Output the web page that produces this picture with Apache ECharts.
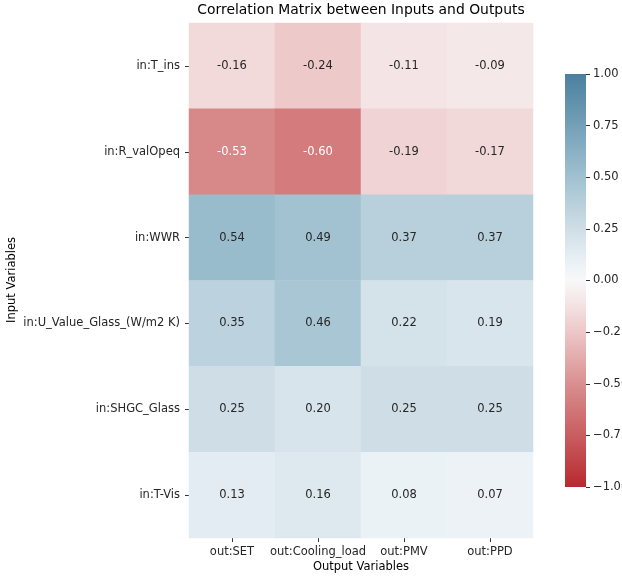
<!DOCTYPE html>
<html>
<head>
<meta charset="utf-8">
<script src="https://cdn.jsdelivr.net/npm/echarts@6/dist/echarts.min.js"></script>
<style>
  html, body { margin: 0; padding: 0; background: #ffffff; }
  #chart { width: 622px; height: 577px; }
</style>
</head>
<body>
<div id="chart"></div>
<script>
// Row and column categories
const inputVars = ['in:T_ins', 'in:R_valOpeq', 'in:WWR', 'in:U_Value_Glass_(W/m2 K)', 'in:SHGC_Glass', 'in:T-Vis'];
const outputVars = ['out:SET', 'out:Cooling_load', 'out:PMV', 'out:PPD'];

// Correlation coefficients, one array per input variable (order follows outputVars)
const corrTIns     = [-0.16, -0.24, -0.11, -0.09];
const corrRValOpeq = [-0.53, -0.60, -0.19, -0.17];
const corrWWR      = [0.54, 0.49, 0.37, 0.37];
const corrUValue   = [0.35, 0.46, 0.22, 0.19];
const corrSHGC     = [0.25, 0.20, 0.25, 0.25];
const corrTVis     = [0.13, 0.16, 0.08, 0.07];
const corrRows = [corrTIns, corrRValOpeq, corrWWR, corrUValue, corrSHGC, corrTVis];

// Diverging red-white-blue palette: anchor positions and colours
const paletteAt  = [-1, -0.75, -0.5, -0.25, -0.1, 0, 0.1, 0.25, 0.5, 0.75, 1];
const paletteHex = ['#B8292F', '#C95D60', '#D98F90', '#EDC7C8', '#F5E6E7', '#F8F8F8',
                    '#E8F0F5', '#CFDEE6', '#A0C1D1', '#74A0B8', '#4A809F'];

const FONT = 'DejaVu Sans';
const LABEL_SIZE = 11.5;

// Resample the anchored palette into an evenly spaced colour list for the visualMap
function hexToRgb(h) {
  return [parseInt(h.slice(1, 3), 16), parseInt(h.slice(3, 5), 16), parseInt(h.slice(5, 7), 16)];
}
function paletteColor(v) {
  let i = 0;
  while (i < paletteAt.length - 2 && v > paletteAt[i + 1]) i++;
  const t = (v - paletteAt[i]) / (paletteAt[i + 1] - paletteAt[i]);
  const a = hexToRgb(paletteHex[i]), b = hexToRgb(paletteHex[i + 1]);
  const c = a.map((x, k) => Math.round(x + (b[k] - x) * t));
  return 'rgb(' + c.join(',') + ')';
}
const rampColors = [];
for (let k = 0; k <= 200; k++) rampColors.push(paletteColor(-1 + k / 100));

// Colour bar fill: vertical gradient from -1 (bottom) to +1 (top)
const colorbarFill = new echarts.graphic.LinearGradient(0, 1, 0, 0,
  paletteAt.map((v, i) => ({ offset: (v + 1) / 2, color: paletteHex[i] })));

const heatData = [];
corrRows.forEach((row, r) => {
  row.forEach((v, c) => {
    heatData.push({
      value: [c, r, v],
      label: { color: v <= -0.5 ? '#ffffff' : '#262626' }
    });
  });
});

const chart = echarts.init(document.getElementById('chart'), null, { renderer: 'canvas' });

const option = {
  backgroundColor: '#ffffff',
  animation: false,
  grid: [
    { left: 189, top: 23, width: 344, height: 515, outerBoundsMode: 'none', containLabel: false },
    { left: 565, top: 74, width: 21, height: 413, outerBoundsMode: 'none', containLabel: false,
      show: true, backgroundColor: colorbarFill, borderWidth: 0 }
  ],
  xAxis: [
    {
      type: 'category', gridIndex: 0, data: outputVars, position: 'bottom',
      axisLine: { show: false },
      axisTick: { show: true, alignWithLabel: true, length: 4, lineStyle: { color: '#000000', width: 0.8 } },
      axisLabel: { fontFamily: FONT, fontSize: LABEL_SIZE, color: '#262626', margin: 8, interval: 0 },
      splitLine: { show: false }
    },
    { type: 'value', gridIndex: 1, show: false, min: 0, max: 1 }
  ],
  yAxis: [
    {
      type: 'category', gridIndex: 0, data: inputVars, inverse: true,
      axisLine: { show: false },
      axisTick: { show: true, alignWithLabel: true, length: 4, lineStyle: { color: '#000000', width: 0.8 } },
      axisLabel: { fontFamily: FONT, fontSize: LABEL_SIZE, color: '#262626', margin: 9, interval: 0 },
      splitLine: { show: false }
    },
    {
      // colour bar scale, drawn along the right edge of the bar
      type: 'value', gridIndex: 1, position: 'right', min: -1, max: 1, interval: 0.25,
      axisLine: { show: false, onZero: false },
      axisTick: { show: true, inside: false, length: 4, lineStyle: { color: '#000000', width: 0.8 } },
      axisLabel: {
        fontFamily: FONT, fontSize: LABEL_SIZE, color: '#262626', margin: 7,
        formatter: v => (v < 0 ? '\u2212' + Math.abs(v).toFixed(2) : v.toFixed(2))
      },
      splitLine: { show: false }
    }
  ],
  visualMap: {
    type: 'continuous', min: -1, max: 1, seriesIndex: 0, show: false,
    inRange: { color: rampColors }
  },
  graphic: [
    {
      type: 'text', x: 361, y: 10,
      style: { text: 'Correlation Matrix between Inputs and Outputs', fontFamily: FONT, fontSize: 13.9,
               fill: '#000000', textAlign: 'center', textVerticalAlign: 'middle' }
    },
    {
      type: 'text', x: 12, y: 280, rotation: Math.PI / 2,
      style: { text: 'Input Variables', fontFamily: FONT, fontSize: LABEL_SIZE, fill: '#000000',
               textAlign: 'center', textVerticalAlign: 'middle' }
    },
    {
      type: 'text', x: 361, y: 567,
      style: { text: 'Output Variables', fontFamily: FONT, fontSize: LABEL_SIZE, fill: '#000000',
               textAlign: 'center', textVerticalAlign: 'middle' }
    }
  ],
  series: [
    {
      type: 'heatmap', xAxisIndex: 0, yAxisIndex: 0,
      data: heatData,
      label: {
        show: true, fontFamily: FONT, fontSize: LABEL_SIZE,
        formatter: p => p.value[2].toFixed(2)
      },
      itemStyle: { borderWidth: 0 },
      emphasis: { disabled: true }
    },
    {
      type: 'scatter', xAxisIndex: 1, yAxisIndex: 1, data: [], silent: true
    }
  ]
};

chart.setOption(option);
</script>
</body>
</html>
